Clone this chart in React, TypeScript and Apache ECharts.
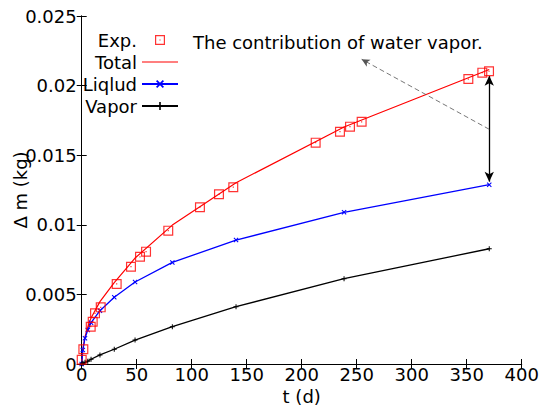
import React, { useEffect, useRef } from 'react';
import * as echarts from 'echarts';

// Experimental points (t in days, Δm in kg)
const expT = [0, 1.5, 8.2, 10, 12.1, 17.3, 31.8, 44.8, 53, 58.5, 78.7, 107.5, 124.8, 137.8, 212.7, 234.8, 243.9, 254.5, 351.5, 364.2, 370.3];
const expV = [0.0003, 0.00106, 0.00268, 0.00304, 0.00364, 0.00407, 0.00575, 0.00699, 0.0077, 0.00807, 0.00958, 0.01126, 0.01219, 0.0127, 0.0159, 0.01669, 0.01705, 0.0174, 0.02047, 0.02093, 0.02103];

// Simulation times and series
const simT = [0, 1, 3, 5.5, 8.5, 16.6, 29.6, 48.5, 82.4, 140.3, 238.5, 370.5];
const totalV = [0, 0.00105, 0.00197, 0.00264, 0.00331, 0.00448, 0.00585, 0.00761, 0.00998, 0.01302, 0.01703, 0.02116];
const liquidV = [0, 0.001, 0.00185, 0.00244, 0.00297, 0.00383, 0.00479, 0.00589, 0.0073, 0.0089, 0.0109, 0.01288];
const vaporV = [0, 0.00005, 0.00012, 0.0002, 0.00034, 0.00065, 0.00106, 0.00172, 0.00268, 0.00412, 0.00613, 0.00828];

// Annotation anchors (data coordinates)
const arrowTop = [370.5, 0.0207];
const arrowBottom = [370.5, 0.0131];
const pointerFrom = [370.5, 0.01686];
const pointerTo = [254.5, 0.02189];
const annotationText = 'The contribution of water vapor.';

const FONT = 'DejaVu Sans';

const squareSym = 'path://M0,0H10V10H0Z M1.2,1.2V8.8H8.8V1.2Z M4.4,4.4H5.6V5.6H4.4Z';
const xSym = 'path://M0,1.5L1.5,0L5,3.5L8.5,0L10,1.5L6.5,5L10,8.5L8.5,10L5,6.5L1.5,10L0,8.5L3.5,5Z';
const plusSym = 'path://M4,0H6V4H10V6H6V10H4V6H0V4H4Z';
const lineIcon = 'path://M0,4.4H36V5.6H0Z';

function zip(a: number[], b: number[]) {
  return a.map((v, i) => [v, b[i]]);
}

export default function App() {
  const ref = useRef<HTMLDivElement>(null);
  useEffect(() => {
    if (!ref.current) return;
    const chart = echarts.init(ref.current, undefined, { renderer: 'svg' });
    const axisCommon = {
      min: 0,
      axisLine: { show: true, lineStyle: { color: '#000', width: 1 } },
      axisTick: { show: true, inside: true, length: 5, lineStyle: { color: '#000' } },
      splitLine: { show: false },
    };
    chart.setOption({
      animation: false,
      backgroundColor: '#fff',
      textStyle: { fontFamily: FONT },
      grid: { left: 81.7, right: 17.3, top: 16, bottom: 45, outerBoundsMode: 'none', containLabel: false },
      legend: {
        orient: 'vertical',
        align: 'right',
        right: 355,
        top: 26,
        itemWidth: 36,
        itemHeight: 10,
        itemGap: 4,
        textStyle: { fontFamily: FONT, fontSize: 18, color: '#000' },
        data: [
          { name: 'Exp.' },
          { name: 'Total', icon: lineIcon },
          { name: 'Liqlud' },
          { name: 'Vapor' },
        ],
      },
      xAxis: [
        {
          ...axisCommon,
          type: 'value',
          max: 400,
          interval: 50,
          name: 't (d)',
          nameLocation: 'middle',
          nameGap: 23,
          nameMoveOverlap: false,
          nameTextStyle: { fontFamily: FONT, fontSize: 18, color: '#000' },
          axisLabel: { fontFamily: FONT, fontSize: 18, color: '#000', margin: 1 },
        },
        {
          ...axisCommon,
          type: 'value',
          position: 'top',
          max: 400,
          interval: 50,
          axisLabel: { show: false },
        },
      ],
      yAxis: [
        {
          ...axisCommon,
          type: 'value',
          max: 0.025,
          interval: 0.005,
          name: 'Δ m (kg)',
          nameLocation: 'middle',
          nameGap: 52,
          nameRotate: 90,
          nameMoveOverlap: false,
          nameTextStyle: { fontFamily: FONT, fontSize: 18, color: '#000' },
          axisLabel: { fontFamily: FONT, fontSize: 18, color: '#000', margin: 5 },
        },
        {
          ...axisCommon,
          type: 'value',
          position: 'right',
          max: 0.025,
          interval: 0.005,
          axisLabel: { show: false },
        },
      ],
      graphic: [
        {
          type: 'text',
          left: 193,
          top: 33,
          style: { text: annotationText, font: `18px "${FONT}"`, fill: '#000' },
        },
      ],
      series: [
        {
          name: 'Exp.',
          type: 'scatter',
          data: zip(expT, expV),
          symbol: squareSym,
          symbolSize: 10,
          itemStyle: { color: '#ff0000' },
          z: 5,
        },
        {
          name: 'Total',
          type: 'line',
          data: zip(simT, totalV),
          symbol: 'none',
          lineStyle: { color: '#ff0000', width: 1.2 },
          itemStyle: { color: '#ff0000' },
          markLine: {
            silent: true,
            animation: false,
            label: { show: false },
            symbol: ['arrow', 'arrow'],
            symbolSize: [7, 10],
            lineStyle: { color: '#000', width: 1.3, type: 'solid' },
            data: [[{ coord: arrowTop }, { coord: arrowBottom }]],
          },
        },
        {
          name: 'Liqlud',
          type: 'line',
          data: zip(simT, liquidV),
          symbol: xSym,
          symbolSize: 5,
          showAllSymbol: true,
          lineStyle: { color: '#0000ff', width: 1.3 },
          itemStyle: { color: '#0000ff' },
        },
        {
          name: 'Vapor',
          type: 'line',
          data: zip(simT, vaporV),
          symbol: plusSym,
          symbolSize: 5,
          showAllSymbol: true,
          lineStyle: { color: '#000', width: 1.3 },
          itemStyle: { color: '#000' },
          markLine: {
            silent: true,
            animation: false,
            label: { show: false },
            symbol: ['none', 'arrow'],
            symbolSize: [6, 8],
            lineStyle: { color: '#555', width: 0.8, type: [5, 3] },
            data: [[{ coord: pointerFrom }, { coord: pointerTo }]],
          },
        },
      ],
    });
    return () => chart.dispose();
  }, []);
  return (
    <div
      ref={ref}
      style={{ position: 'absolute', left: 0, top: 0, width: 539, height: 409 }}
    />
  );
}
